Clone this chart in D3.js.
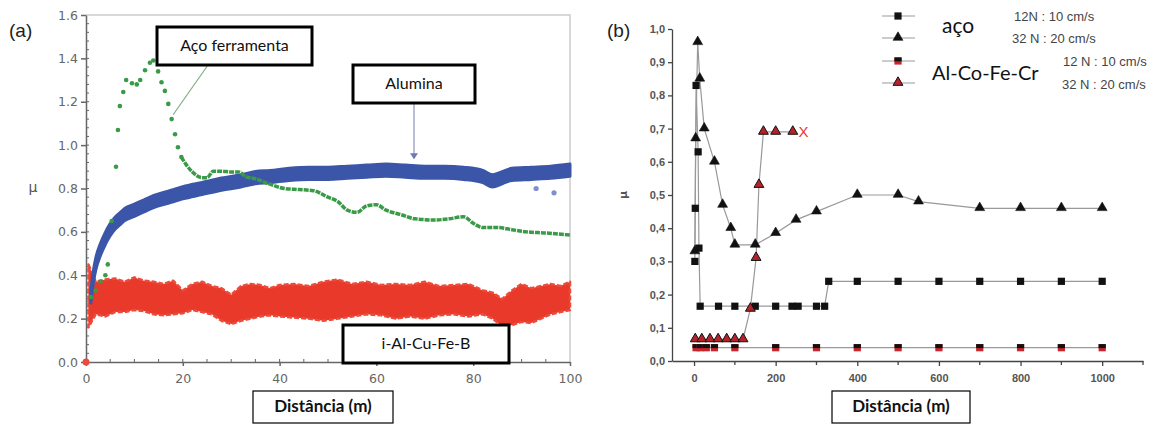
<!DOCTYPE html>
<html>
<head>
<meta charset="utf-8">
<script src="https://cdn.jsdelivr.net/npm/d3@7"></script>
<style>
  body { margin: 0; background: #fff; }
  svg { display: block; }
</style>
</head>
<body>
<svg id="chart" width="1164" height="425"></svg>
<script>
// ---- dados do painel (a): coeficiente de atrito vs distância (0-100 m)
var blueX = [1, 1.5, 2, 3, 4, 5, 6, 7, 8, 10, 12, 14, 17, 20, 24, 28, 32, 35, 38, 42, 46, 50, 54, 58, 62, 66, 70, 74, 78, 82, 84, 86, 88, 92, 96, 100];
var blueY = [0.30, 0.39, 0.45, 0.52, 0.57, 0.61, 0.64, 0.66, 0.68, 0.70, 0.72, 0.74, 0.76, 0.78, 0.80, 0.82, 0.835, 0.85, 0.855, 0.865, 0.87, 0.87, 0.875, 0.88, 0.885, 0.88, 0.875, 0.875, 0.87, 0.855, 0.835, 0.85, 0.865, 0.87, 0.875, 0.885];
var blueOutX = [93, 96.7];
var blueOutY = [0.80, 0.78];

var greenX = [1, 2, 3, 4, 4.5, 5.3, 6.2, 6.6, 7.0, 7.7, 8.3, 9.5, 10.5, 11.2, 12.2, 13.2, 13.9, 14.9, 15.6, 16.3, 17.0, 17.7, 18.4, 19.0, 19.7, 20.7, 22, 24, 25, 26.3, 28, 30, 31.6, 33, 35, 38, 41, 44, 47, 50, 52, 54, 56, 58, 60, 62, 65, 68, 72, 75, 78, 80, 82, 85, 88, 91, 95, 100];
var greenY = [0.30, 0.33, 0.37, 0.40, 0.45, 0.65, 0.90, 1.07, 1.18, 1.245, 1.30, 1.285, 1.28, 1.30, 1.345, 1.38, 1.39, 1.34, 1.29, 1.25, 1.19, 1.12, 1.05, 0.99, 0.945, 0.91, 0.876, 0.85, 0.85, 0.88, 0.88, 0.876, 0.876, 0.855, 0.845, 0.82, 0.80, 0.795, 0.79, 0.76, 0.74, 0.70, 0.69, 0.72, 0.725, 0.70, 0.68, 0.66, 0.655, 0.66, 0.67, 0.64, 0.62, 0.62, 0.61, 0.60, 0.595, 0.585];

var redX  = [0.5, 2, 4, 6, 8, 10, 12, 14, 16, 18, 20, 22, 24, 26, 28, 30, 32, 34, 36, 38, 40, 43, 46, 49, 52, 55, 58, 61, 64, 67, 70, 73, 76, 79, 82, 84, 86, 88, 90, 92, 94, 96, 98, 100];
var redHi = [0.45, 0.37, 0.38, 0.385, 0.37, 0.39, 0.375, 0.37, 0.36, 0.375, 0.33, 0.36, 0.37, 0.35, 0.34, 0.31, 0.35, 0.36, 0.355, 0.34, 0.355, 0.36, 0.35, 0.37, 0.38, 0.36, 0.37, 0.355, 0.36, 0.355, 0.37, 0.35, 0.355, 0.36, 0.33, 0.32, 0.29, 0.33, 0.36, 0.34, 0.35, 0.36, 0.35, 0.37];
var redLo = [0.16, 0.22, 0.21, 0.23, 0.23, 0.24, 0.235, 0.22, 0.215, 0.22, 0.225, 0.24, 0.23, 0.22, 0.19, 0.175, 0.19, 0.2, 0.21, 0.215, 0.21, 0.205, 0.2, 0.19, 0.2, 0.21, 0.22, 0.215, 0.2, 0.21, 0.2, 0.215, 0.22, 0.21, 0.22, 0.2, 0.165, 0.17, 0.185, 0.18, 0.2, 0.22, 0.23, 0.24];

var ticksA_X = [0, 20, 40, 60, 80, 100];
var ticksA_Y = [0, 0.2, 0.4, 0.6, 0.8, 1.0, 1.2, 1.4, 1.6];

// ---- dados do painel (b): 0-1000 m
var aco12X = [2, 3, 5, 10, 12, 15, 60, 100, 150, 200, 240, 255, 300, 320, 330, 400, 500, 600, 700, 800, 900, 1000];
var aco12Y = [0.30, 0.46, 0.83, 0.63, 0.34, 0.165, 0.165, 0.165, 0.165, 0.165, 0.165, 0.165, 0.165, 0.165, 0.24, 0.24, 0.24, 0.24, 0.24, 0.24, 0.24, 0.24];
var aco32X = [2, 4, 9, 14, 25, 50, 70, 90, 100, 150, 200, 250, 300, 400, 500, 550, 700, 800, 900, 1000];
var aco32Y = [0.33, 0.67, 0.96, 0.85, 0.70, 0.60, 0.47, 0.40, 0.35, 0.35, 0.385, 0.425, 0.45, 0.50, 0.50, 0.48, 0.46, 0.46, 0.46, 0.46];
var al12X = [5, 15, 30, 50, 100, 200, 300, 400, 500, 600, 700, 800, 900, 1000];
var al12Y = [0.04, 0.04, 0.04, 0.04, 0.04, 0.04, 0.04, 0.04, 0.04, 0.04, 0.04, 0.04, 0.04, 0.04];
var al32X = [3, 19, 39, 59, 80, 100, 120, 138, 152, 159, 170, 200, 242];
var al32Y = [0.065, 0.065, 0.065, 0.065, 0.065, 0.065, 0.065, 0.157, 0.31, 0.53, 0.69, 0.69, 0.69];
var failX = [268], failY = [0.69];

var ticksB_X = [0, 200, 400, 600, 800, 1000];
var ticksB_Y = [0, 0.1, 0.2, 0.3, 0.4, 0.5, 0.6, 0.7, 0.8, 0.9, 1.0];

var svg = d3.select("#chart");
var pts = function(xs, ys) { return xs.map(function(x, i) { return {x: x, y: ys[i]}; }); };

// rótulo em caixa com borda preta grossa
function boxLabel(x, y, w, h, text, opts) {
    opts = opts || {};
    svg.append("rect").attr("x", x).attr("y", y).attr("width", w).attr("height", h)
        .attr("fill", "#fff").attr("stroke", "#000").attr("stroke-width", opts.sw || 3);
    svg.append("text").attr("x", x + w / 2).attr("y", y + h / 2 + 1)
        .attr("text-anchor", "middle").attr("dominant-baseline", "middle")
        .style("font-family", "Lato, 'Open Sans', sans-serif")
        .style("font-size", (opts.size || 16) + "px")
        .style("font-weight", opts.bold ? "bold" : "normal")
        .attr("fill", "#111").text(text);
}

/* ========== painel (a) ========== */
var xa = d3.scaleLinear().domain([0, 100]).range([86, 570]);
var ya = d3.scaleLinear().domain([0, 1.6]).range([362, 15]);

// moldura clara
svg.append("path").attr("d", "M" + xa(0) + "," + ya(1.6) + "H" + xa(100) + "V" + ya(0))
    .attr("fill", "none").attr("stroke", "#ccc").attr("stroke-width", 1.5);

// minor ticks
var gA = svg.append("g");
gA.selectAll(".mx").data(d3.range(5, 100, 5)).enter().append("line")
    .attr("x1", function(d) { return xa(d); }).attr("x2", function(d) { return xa(d); })
    .attr("y1", ya(0)).attr("y2", ya(0) - 3).attr("stroke", "#666");
gA.selectAll(".my").data(d3.range(0.04, 1.6, 0.04)).enter().append("line")
    .attr("y1", function(d) { return ya(d); }).attr("y2", function(d) { return ya(d); })
    .attr("x1", xa(0)).attr("x2", xa(0) + 3).attr("stroke", "#666");

var axA_x = svg.append("g").attr("transform", "translate(0," + ya(0) + ")")
    .call(d3.axisBottom(xa).tickValues(ticksA_X).tickSize(4).tickSizeOuter(0));
var axA_y = svg.append("g").attr("transform", "translate(" + xa(0) + ",0)")
    .call(d3.axisLeft(ya).tickValues(ticksA_Y).tickFormat(d3.format(".1f")).tickSize(5).tickSizeOuter(0));
[axA_x, axA_y].forEach(function(ax) {
    ax.selectAll("path, line").attr("stroke", "#666").attr("stroke-width", 1.5);
    ax.selectAll("text").attr("fill", "#666")
        .style("font-family", "'DejaVu Sans', sans-serif").style("font-size", "12.5px");
});
axA_x.selectAll("text").attr("dy", "1.1em");

// série vermelha (i-Al-Cu-Fe-B) como faixa
var red = redX.map(function(x, i) { return {x: x, lo: redLo[i], hi: redHi[i]}; });
svg.append("path").datum(red)
    .attr("d", d3.area().x(function(d) { return xa(d.x); })
        .y0(function(d) { return ya(d.lo); }).y1(function(d) { return ya(d.hi); }))
    .attr("fill", "#e8392a").attr("stroke", "#ec4a3a").attr("stroke-width", 2.5)
    .attr("stroke-dasharray", "5,2").attr("stroke-linejoin", "round");
svg.append("circle").attr("cx", xa(0)).attr("cy", ya(0)).attr("r", 3.5).attr("fill", "#ec4a3a");

// série azul (Alumina)
var blue = pts(blueX, blueY);
svg.append("path").datum(blue)
    .attr("d", d3.area().curve(d3.curveMonotoneX).x(function(d) { return xa(d.x); })
        .y0(function(d) { return ya(d.y - 0.028); }).y1(function(d) { return ya(d.y + 0.028); }))
    .attr("fill", "#3b56a8").attr("stroke", "#3b56a8").attr("stroke-width", 3)
    .attr("stroke-linejoin", "round");
svg.selectAll(".bout").data(pts(blueOutX, blueOutY)).enter().append("circle")
    .attr("cx", function(d) { return xa(d.x); }).attr("cy", function(d) { return ya(d.y); })
    .attr("r", 2.6).attr("fill", "#7f8fcf");

// série verde (Aço ferramenta)
var green = pts(greenX, greenY);
svg.append("path").datum(green.slice(24))
    .attr("d", d3.line().curve(d3.curveMonotoneX).x(function(d) { return xa(d.x); }).y(function(d) { return ya(d.y); }))
    .attr("fill", "none").attr("stroke", "#3a9a48").attr("stroke-width", 3.5)
    .attr("stroke-dasharray", "5,1");
svg.selectAll(".gdot").data(green.slice(0, 25)).enter().append("circle")
    .attr("cx", function(d) { return xa(d.x); }).attr("cy", function(d) { return ya(d.y); })
    .attr("r", 2.3).attr("fill", "#3a9a48");

// anotações
svg.append("line").attr("x1", 208).attr("y1", 65).attr("x2", xa(18)).attr("y2", ya(1.14))
    .attr("stroke", "#7fae84").attr("stroke-width", 1.2);
svg.append("line").attr("x1", 414).attr("y1", 103).attr("x2", 414).attr("y2", ya(0.94))
    .attr("stroke", "#8a93c0").attr("stroke-width", 1.2);
svg.append("path").attr("d", "M410," + (ya(0.94) - 5) + "L418," + (ya(0.94) - 5) + "L414," + (ya(0.94) + 1) + "Z")
    .attr("fill", "#6f7ab0");

boxLabel(157, 27, 155, 38, "Aço ferramenta");
boxLabel(353, 65, 122, 38, "Alumina");
boxLabel(343, 325, 166, 38, "i-Al-Cu-Fe-B");
boxLabel(253, 391, 140, 32, "Distância (m)", {bold: true, size: 17, sw: 1.2});

svg.append("text").attr("x", 33).attr("y", 192).attr("text-anchor", "middle")
    .style("font-family", "'DejaVu Sans', sans-serif").style("font-size", "14px")
    .attr("fill", "#555").text("μ");
svg.append("text").attr("x", 9).attr("y", 37)
    .style("font-family", "'Liberation Sans', Arial, sans-serif").style("font-size", "19px")
    .attr("fill", "#222").text("(a)");

/* ========== painel (b) ========== */
var xb = d3.scaleLinear().domain([-54, 1100]).range([672, 1143]);
var yb = d3.scaleLinear().domain([0, 1]).range([361, 29]);

var axB_x = svg.append("g").attr("transform", "translate(0," + yb(0) + ")")
    .call(d3.axisBottom(xb).tickValues(ticksB_X).tickFormat(d3.format("d")).tickSize(5).tickSizeOuter(0));
axB_x.selectAll(".mtick").data(d3.range(100, 1101, 200)).enter().append("line")
    .attr("x1", function(d) { return xb(d); }).attr("x2", function(d) { return xb(d); })
    .attr("y1", 0).attr("y2", 4);
var axB_y = svg.append("g").attr("transform", "translate(" + xb(-54) + ",0)")
    .call(d3.axisLeft(yb).tickValues(ticksB_Y).tickSize(4).tickSizeOuter(0)
        .tickFormat(function(d) { return d3.format(".1f")(d).replace(".", ","); }));
[axB_x, axB_y].forEach(function(ax) {
    ax.selectAll("path, line").attr("stroke", "#444").attr("stroke-width", 1.3);
    ax.selectAll("text").attr("fill", "#555").style("font-weight", "bold")
        .style("font-family", "'Liberation Sans', Arial, sans-serif").style("font-size", "11px");
});
axB_x.selectAll("text").attr("dy", "1.2em");

var lineB = d3.line().x(function(d) { return xb(d.x); }).y(function(d) { return yb(d.y); });
var series = [
    {data: pts(aco12X, aco12Y), shape: "sq", red: false},
    {data: pts(al12X, al12Y), shape: "sq", red: true},
    {data: pts(aco32X, aco32Y), shape: "tri", red: false},
    {data: pts(al32X, al32Y), shape: "tri", red: true}
];

// marcador: quadrado ou triângulo, com a variante vermelha para Al-Co-Fe-Cr
function marker(g, x, y, shape, isRed) {
    if (shape === "sq") {
        g.append("rect").attr("x", x - 3.6).attr("y", y - 3.6).attr("width", 7.2).attr("height", 7.2)
            .attr("fill", isRed ? "#c8262c" : "#111");
        if (isRed) {
            g.append("rect").attr("x", x - 3.6).attr("y", y - 3.6).attr("width", 7.2).attr("height", 4)
                .attr("fill", "#111");
        }
    } else {
        g.append("path").attr("transform", "translate(" + x + "," + (y - 0.5) + ")")
            .attr("d", d3.symbol(d3.symbolTriangle).size(42)())
            .attr("fill", isRed ? "#b5222a" : "#111").attr("stroke", "#111").attr("stroke-width", isRed ? 1 : 0.6);
    }
}

series.forEach(function(s) {
    svg.append("path").datum(s.data).attr("d", lineB)
        .attr("fill", "none").attr("stroke", "#999").attr("stroke-width", 1.2);
});
series.forEach(function(s) {
    var g = svg.append("g");
    s.data.forEach(function(d) { marker(g, xb(d.x), yb(d.y), s.shape, s.red); });
});
svg.selectAll(".fail").data(pts(failX, failY)).enter().append("text")
    .attr("x", function(d) { return xb(d.x); }).attr("y", function(d) { return yb(d.y) + 5; })
    .attr("text-anchor", "middle").attr("fill", "#e23a3a")
    .style("font-family", "'Liberation Sans', Arial, sans-serif").style("font-size", "15px")
    .text("X");

// legenda
var legRows = [
    {y: 16, shape: "sq", red: false},
    {y: 38, shape: "tri", red: false},
    {y: 61, shape: "sq", red: true},
    {y: 83, shape: "tri", red: true}
];
var legG = svg.append("g");
legRows.forEach(function(r) {
    legG.append("line").attr("x1", 882).attr("x2", 915).attr("y1", r.y).attr("y2", r.y)
        .attr("stroke", "#999").attr("stroke-width", 1.2);
    marker(legG, 898, r.y, r.shape, r.red);
});
var legText = [
    {x: 942, y: 33, t: "aço", s: 21, f: "Lato, sans-serif"},
    {x: 932, y: 80, t: "Al-Co-Fe-Cr", s: 20, f: "Lato, sans-serif"},
    {x: 1014, y: 21, t: "12N : 10 cm/s", s: 13, f: "'Liberation Sans', Arial, sans-serif"},
    {x: 1012, y: 43, t: "32 N : 20 cm/s", s: 13, f: "'Liberation Sans', Arial, sans-serif"},
    {x: 1063, y: 66, t: "12 N : 10 cm/s", s: 13, f: "'Liberation Sans', Arial, sans-serif"},
    {x: 1062, y: 89, t: "32 N : 20 cm/s", s: 13, f: "'Liberation Sans', Arial, sans-serif"}
];
legText.forEach(function(l) {
    legG.append("text").attr("x", l.x).attr("y", l.y).style("font-family", l.f)
        .style("font-size", l.s + "px").attr("fill", l.s > 15 ? "#111" : "#444").text(l.t);
});

svg.append("text").attr("transform", "translate(627,195) rotate(-90)").attr("text-anchor", "middle")
    .style("font-family", "'DejaVu Sans', sans-serif").style("font-size", "11px").style("font-weight", "bold")
    .attr("fill", "#555").text("μ");
svg.append("text").attr("x", 607).attr("y", 37)
    .style("font-family", "'Liberation Sans', Arial, sans-serif").style("font-size", "19px")
    .attr("fill", "#222").text("(b)");

boxLabel(832, 391, 138, 32, "Distância (m)", {bold: true, size: 17, sw: 1.2});
</script>
</body>
</html>
